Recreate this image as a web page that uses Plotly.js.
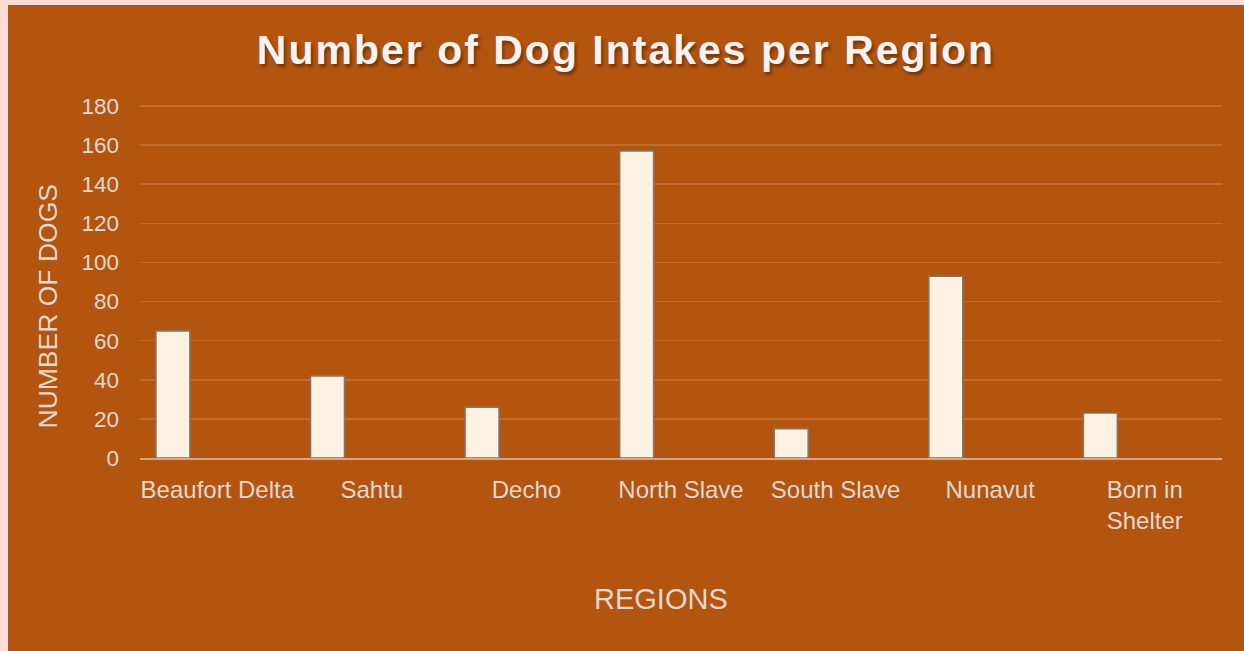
<!DOCTYPE html>
<html>
<head>
<meta charset="utf-8">
<script src="https://cdn.plot.ly/plotly-3.0.1.min.js"></script>
<style>
  html, body { margin: 0; padding: 0; background: #FCDCD4; width: 1244px; height: 651px; overflow: hidden; }
  #chart { position: absolute; left: 8px; top: 5px; width: 1236px; height: 646px; }
  .gtitle { letter-spacing: 2px; }
</style>
</head>
<body>
<div id="chart"></div>
<script>
const categories = ["Beaufort Delta", "Sahtu", "Decho", "North Slave", "South Slave", "Nunavut", "Born in<br>Shelter"];
const dogIntakes = [65, 42, 26, 157, 15, 93, 23];
const yTickValues = [0, 20, 40, 60, 80, 100, 120, 140, 160, 180];

const bg = "#B3540F";
const labelColor = "#E3D8D0";
const pad = n => "&nbsp;".repeat(n);

const trace = {
  type: "bar",
  x: categories,
  y: dogIntakes,
  width: 0.22,
  offset: -0.397,
  marker: {
    color: "#FDF2E2",
    line: { color: "#857464", width: 1.6 }
  },
  hoverinfo: "x+y",
  showlegend: false
};

const layout = {
  width: 1236,
  height: 646,
  paper_bgcolor: bg,
  plot_bgcolor: bg,
  margin: { l: 132, r: 22, t: 98, b: 193 },
  title: {
    text: "Number of Dog Intakes per Region",
    x: 0.5,
    xanchor: "center",
    y: 0.931,
    yanchor: "middle",
    font: {
      family: "Liberation Sans, Arial, sans-serif",
      size: 41,
      weight: 700,
      color: "#F4F4F4",
      shadow: "2px 3px 3px rgba(60,20,0,0.5)"
    }
  },
  font: { family: "Liberation Sans, Arial, sans-serif", color: labelColor },
  xaxis: {
    type: "category",
    showgrid: false,
    showline: true,
    linecolor: "#D9A583",
    linewidth: 2,
    ticks: "",
    ticklabelstandoff: 9,
    tickfont: { size: 24, color: labelColor },
    tickangle: 0,
    title: {
      text: "REGIONS" + pad(5),
      standoff: 56,
      font: { size: 29, color: labelColor }
    },
    zeroline: false,
    fixedrange: true
  },
  yaxis: {
    range: [0, 181.5],
    tickvals: yTickValues,
    ticktext: yTickValues.map(String),
    showgrid: true,
    gridcolor: "#C26A30",
    gridwidth: 1.5,
    zeroline: false,
    showline: false,
    ticks: "",
    ticklabelstandoff: 20,
    tickfont: { size: 22.5, color: labelColor },
    title: {
      text: "NUMBER OF DOGS" + pad(7),
      standoff: 16,
      font: { size: 26.5, color: labelColor }
    },
    fixedrange: true
  },
  bargap: 0.2
};

Plotly.newPlot("chart", [trace], layout, { displayModeBar: false, staticPlot: true });
</script>
</body>
</html>
